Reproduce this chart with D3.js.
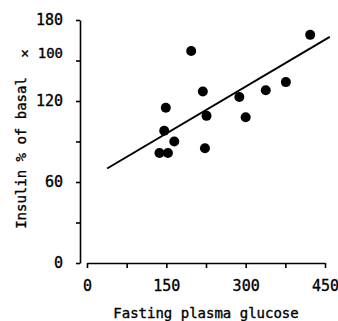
<!DOCTYPE html>
<html>
<head>
<meta charset="utf-8">
<script src="https://cdn.jsdelivr.net/npm/d3@7"></script>
<style>
  body { margin: 0; background: #fff; }
  text { font-family: "DejaVu Sans Mono", monospace; fill: #000; stroke: #000; stroke-width: 0.35; }
  .axis path, .axis line { stroke: #000; stroke-width: 1.6; }
</style>
</head>
<body>
<div id="chart-area"></div>
<script>
// values
const glucose = [422, 197, 219, 149, 288, 338, 376, 226, 300, 146, 165, 137, 153, 223]
const insulin = [169, 157, 127, 115, 123, 128, 134, 109, 108, 98, 90, 81.5, 81.5, 85]
const fitX = [38, 459]
const fitY = [70, 167.5]
const xTicks = [0, 75, 150, 225, 300, 375, 450]
const xLabels = [0, 150, 300, 450]
const yTicks = [0, 30, 60, 90, 120, 150, 180]
const yLabels = [0, 60, 120, 180]

const W = 338, H = 321

const svg = d3.select("#chart-area").append("svg")
	.attr("width", W)
	.attr("height", H)

const x = d3.scaleLinear().domain([0, 450]).range([87, 325])
const y = d3.scaleLinear().domain([0, 180]).range([263, 20])

// Y axis
const yAxis = svg.append("g")
	.attr("class", "axis")
	.attr("transform", "translate(80,0)")
	.call(d3.axisLeft(y)
		.tickValues(yTicks)
		.tickSize(4)
		.tickSizeOuter(0)
		.tickFormat(d => yLabels.includes(d) ? d : ""))
yAxis.selectAll("text")
	.attr("x", -17)
	.attr("font-size", "15px")
	.style("font-family", "DejaVu Sans Mono")

// X axis
const xAxis = svg.append("g")
	.attr("class", "axis")
	.attr("transform", "translate(0,263)")
	.call(d3.axisBottom(x)
		.tickValues(xTicks)
		.tickSize(5)
		.tickSizeOuter(0)
		.tickFormat(d => xLabels.includes(d) ? d : ""))
xAxis.selectAll("text")
	.attr("y", 17)
	.attr("font-size", "15px")
	.style("font-family", "DejaVu Sans Mono")

// unit note
svg.append("text")
	.attr("x", 63)
	.attr("y", 58)
	.attr("text-anchor", "end")
	.attr("font-size", "14px")
	.text("\u00d7 100")

// axis titles
svg.append("text")
	.attr("x", 206)
	.attr("y", 318)
	.attr("text-anchor", "middle")
	.attr("font-size", "14px")
	.text("Fasting plasma glucose")

svg.append("text")
	.attr("transform", "translate(26,153) rotate(-90)")
	.attr("text-anchor", "middle")
	.attr("font-size", "14px")
	.text("Insulin % of basal")

// fitted line
svg.append("line")
	.attr("x1", x(fitX[0]))
	.attr("y1", y(fitY[0]))
	.attr("x2", x(fitX[1]))
	.attr("y2", y(fitY[1]))
	.attr("stroke", "#000")
	.attr("stroke-width", 2)

// points
svg.selectAll("circle")
	.data(glucose)
	.enter().append("circle")
	.attr("cx", d => x(d))
	.attr("cy", (d, i) => y(insulin[i]))
	.attr("r", 5)
	.attr("fill", "#000")
</script>
</body>
</html>
